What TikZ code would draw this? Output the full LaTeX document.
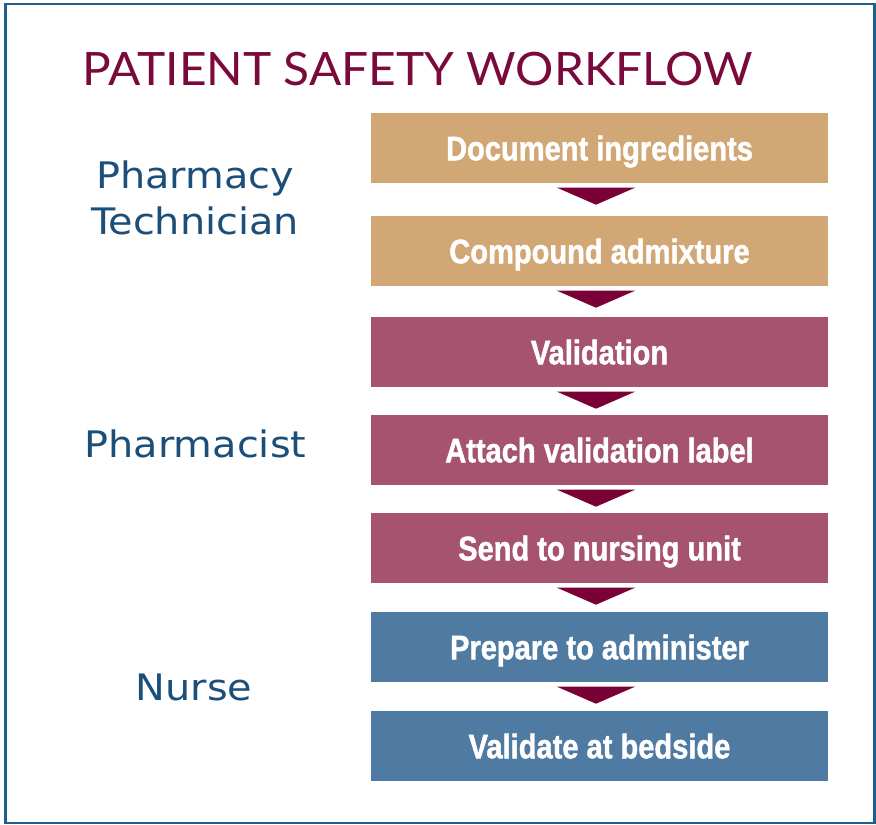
\documentclass[tikz,border=0pt]{standalone}
\usepackage{fontspec}
\usetikzlibrary{calc}
\setmainfont{Liberation Sans}
\newfontfamily\titlefont{Lato}
\newfontfamily\labelfont{DejaVu Sans}
\newfontfamily\boxfont[FakeBold=1.5]{Liberation Sans Bold}
\definecolor{frameblue}{HTML}{1F5F8B}
\definecolor{tan}{HTML}{D2A776}
\definecolor{maroonbox}{HTML}{A5536E}
\definecolor{bluebox}{HTML}{4F7BA3}
\definecolor{arrowred}{HTML}{7A0038}
\definecolor{titlered}{HTML}{7B0A3C}
\definecolor{labelblue}{HTML}{1B4F7A}
\newcommand{\boxtext}[1]{\scalebox{0.855}[1]{#1}}
\newcommand{\roletext}[1]{\scalebox{1.09}[1]{#1}}
\begin{document}
\begin{tikzpicture}[x=1pt,y=-1pt,
  stepbox/.style={draw=none,minimum width=457pt,minimum height=70pt,inner sep=0pt,
    text height=24.5pt,text depth=0pt,
    text=white,font=\boxfont\fontsize{34}{40}\selectfont},
  rolelabel/.style={text=labelblue,font=\labelfont\fontsize{36.5}{46}\selectfont,inner sep=0pt,anchor=base},
  tri/.style={fill=arrowred,draw=none}]
\useasboundingbox (0,0) rectangle (876,825);
\fill[white] (0,0) rectangle (876,825);
\draw[frameblue,line width=2.5pt] (5.5,4) rectangle (874.5,823);
\node[text=titlered,font=\titlefont\fontsize{46}{50}\selectfont,anchor=base,inner sep=0pt] (title) at (417.5,85) {\scalebox{1.04}[1]{PATIENT SAFETY WORKFLOW}};
\node[stepbox,fill=tan] (b1) at (599.5,148) {\boxtext{Document ingredients}};
\node[stepbox,fill=tan] (b2) at (599.5,251) {\boxtext{Compound admixture}};
\node[stepbox,fill=maroonbox] (b3) at (599.5,352) {\boxtext{Validation}};
\node[stepbox,fill=maroonbox] (b4) at (599.5,450) {\boxtext{Attach validation label}};
\node[stepbox,fill=maroonbox] (b5) at (599.5,548) {\boxtext{Send to nursing unit}};
\node[stepbox,fill=bluebox] (b6) at (599.5,647) {\boxtext{Prepare to administer}};
\node[stepbox,fill=bluebox] (b7) at (599.5,746) {\boxtext{Validate at bedside}};
\foreach \a/\b in {b1/b2,b2/b3,b3/b4,b4/b5,b5/b6,b6/b7}{
  \path (\a.south) ++(-3.5,4.5) coordinate (t\a);
  \fill[tri] ($(t\a)+(-39,0)$) -- ($(t\a)+(39,0)$) -- ($(t\a)+(0,17)$) -- cycle;
}
\node[rolelabel] (l1) at (195,188) {\roletext{Pharmacy}};
\node[rolelabel] (l1b) at (195,234) {\roletext{Technician}};
\node[rolelabel] (l2) at (195.5,457) {\roletext{Pharmacist}};
\node[rolelabel] (l3) at (194,700) {\roletext{Nurse}};
\end{tikzpicture}
\end{document}
